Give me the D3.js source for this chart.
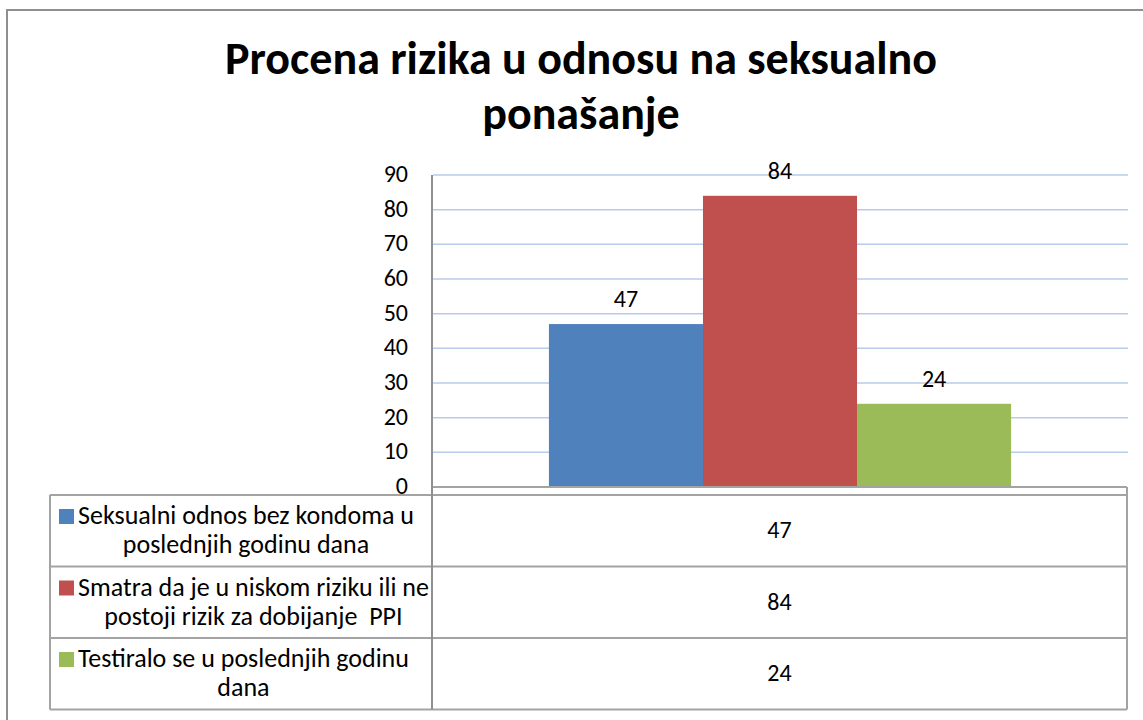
<!DOCTYPE html>
<html>
<head>
<meta charset="utf-8">
<script src="https://cdn.jsdelivr.net/npm/d3@7"></script>
<style>
  body { margin: 0; background: #fff; }
  svg { display: block; font-family: Carlito, Calibri, "Liberation Sans", sans-serif; }
</style>
</head>
<body>
<svg id="chart" width="1143" height="720"></svg>
<script>
// data
var titleLines = ['Procena rizika u odnosu na seksualno', 'ponašanje'];
var categories = [''];
var seriesNames = [
  ['Seksualni odnos bez kondoma u', 'poslednjih godinu dana'],
  ['Smatra da je u niskom riziku ili ne', 'postoji rizik za dobijanje  PPI'],
  ['Testiralo se u poslednjih godinu', 'dana']
];
var seriesValues = [47, 84, 24];
var seriesColors = ['#4f81bd', '#c0504d', '#9bbb59'];
var yTicks = [0, 10, 20, 30, 40, 50, 60, 70, 80, 90];

var svg = d3.select('#chart');

// outer chart frame (runs off the right and bottom of the picture)
svg.append('rect')
      .attr('x', 7).attr('y', 10)
      .attr('width', 1160).attr('height', 730)
      .attr('fill', 'none')
      .attr('stroke', '#8f8f8f')
      .attr('stroke-width', 2);

// title
svg.append('g').selectAll('text')
      .data(titleLines)
      .join('text')
      .attr('x', 581)
      .attr('y', function(d, i) { return 74 + i * 55; })
      .attr('text-anchor', 'middle')
      .attr('font-size', 46)
      .attr('font-weight', 'bold')
      .attr('fill', '#000')
      .text(function(d) { return d; });

var plot = { left: 432, right: 1128, top: 175, bottom: 487 };

var y = d3.scaleLinear().domain([0, 90]).range([plot.bottom, plot.top]);
var x0 = d3.scaleBand().domain(categories).range([plot.left, plot.right]).paddingOuter(0.253);
var x1 = d3.scaleBand().domain(d3.range(seriesValues.length)).range([0, x0.bandwidth()]);

// gridlines
svg.append('g').selectAll('line')
      .data(yTicks.slice(1))
      .join('line')
      .attr('x1', plot.left + 1).attr('x2', plot.right)
      .attr('y1', function(d) { return y(d); })
      .attr('y2', function(d) { return y(d); })
      .attr('stroke', '#b7cbea')
      .attr('stroke-width', 1.5);

// y axis labels
var yAxis = d3.axisLeft(y).tickValues(yTicks).tickSize(0).tickPadding(24);
svg.append('g')
      .attr('transform', 'translate(' + plot.left + ',0)')
      .call(yAxis)
      .call(function(g) { g.select('.domain').remove(); })
      .selectAll('text')
      .attr('font-family', 'Carlito, Calibri, "Liberation Sans", sans-serif')
      .attr('font-size', 24)
      .attr('fill', '#000')
      .attr('dy', '0.27em');

// bars
var bars = svg.append('g').selectAll('g')
      .data(categories)
      .join('g')
      .attr('transform', function(d) { return 'translate(' + x0(d) + ',0)'; });

bars.selectAll('rect')
      .data(seriesValues)
      .join('rect')
      .attr('x', function(d, i) { return x1(i); })
      .attr('y', function(d) { return y(d); })
      .attr('width', x1.bandwidth())
      .attr('height', function(d) { return y(0) - y(d); })
      .attr('fill', function(d, i) { return seriesColors[i]; });

bars.selectAll('text')
      .data(seriesValues)
      .join('text')
      .attr('x', function(d, i) { return x1(i) + x1.bandwidth() / 2; })
      .attr('y', function(d) { return y(d) - 17; })
      .attr('text-anchor', 'middle')
      .attr('font-size', 24)
      .attr('fill', '#000')
      .text(function(d) { return d; });

// data table
var table = { left: 50, top: 495, right: 1127, rowH: 71.5 };
var lineColor = '#a3a3a3';
var grid = svg.append('g').attr('stroke', lineColor).attr('stroke-width', 2).attr('fill', 'none');

grid.append('line')
      .attr('x1', plot.left).attr('x2', table.right)
      .attr('y1', plot.bottom).attr('y2', plot.bottom);
grid.append('line')
      .attr('x1', table.right).attr('x2', table.right)
      .attr('y1', plot.bottom).attr('y2', table.top);
grid.selectAll('line.row')
      .data(d3.range(seriesValues.length + 1))
      .join('line')
      .attr('class', 'row')
      .attr('x1', table.left).attr('x2', table.right)
      .attr('y1', function(d) { return table.top + d * table.rowH; })
      .attr('y2', function(d) { return table.top + d * table.rowH; });
grid.append('line')
      .attr('x1', table.left).attr('x2', table.left)
      .attr('y1', table.top).attr('y2', table.top + seriesValues.length * table.rowH);
grid.append('line')
      .attr('x1', table.right).attr('x2', table.right)
      .attr('y1', table.top).attr('y2', table.top + seriesValues.length * table.rowH);
// y axis line, carried down through the table
grid.append('line')
      .attr('x1', plot.left).attr('x2', plot.left)
      .attr('y1', plot.top).attr('y2', table.top + seriesValues.length * table.rowH)
      .attr('stroke', '#8f8f8f');

var rows = svg.append('g').selectAll('g')
      .data(seriesValues)
      .join('g')
      .attr('transform', function(d, i) { return 'translate(0,' + (table.top + i * table.rowH) + ')'; });

rows.append('rect')
      .attr('x', 59).attr('y', 14)
      .attr('width', 15).attr('height', 15)
      .attr('fill', function(d, i) { return seriesColors[i]; });

rows.each(function(d, i) {
  var row = d3.select(this);
  var first = row.append('text')
        .attr('x', 78).attr('y', 29)
        .attr('font-size', 26)
        .attr('fill', '#000')
        .text(seriesNames[i][0]);
  var mid = 78 + first.node().getComputedTextLength() / 2;
  row.append('text')
        .attr('x', mid).attr('y', 58)
        .attr('text-anchor', 'middle')
        .attr('font-size', 26)
        .attr('fill', '#000')
        .style('white-space', 'pre')
        .text(seriesNames[i][1]);
  row.append('text')
        .attr('x', (plot.left + table.right) / 2)
        .attr('y', 43)
        .attr('text-anchor', 'middle')
        .attr('font-size', 24)
        .attr('fill', '#000')
        .text(d);
});
</script>
</body>
</html>
